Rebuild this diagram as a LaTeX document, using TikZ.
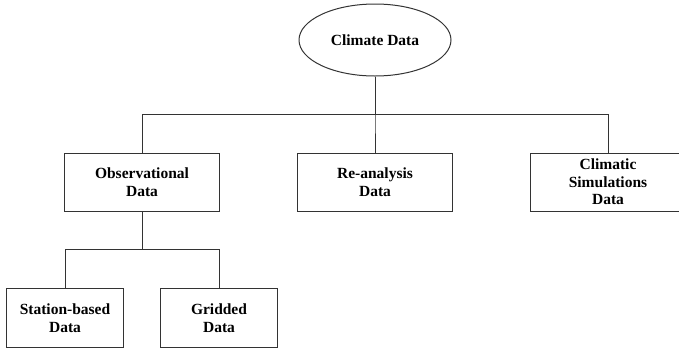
\documentclass[tikz,border=0pt]{standalone}
\usepackage{fontspec}
\setmainfont{Liberation Serif}
\usetikzlibrary{trees,positioning,shapes.geometric}
\tikzset{
  datanode/.style = {shape=rectangle, draw=black!80, line width=1pt,
                     align=center, minimum width=155pt, minimum height=58pt,
                     inner sep=1pt,
                     font=\fontsize{15.5}{17.5}\selectfont\bfseries},
  leafnode/.style = {datanode, minimum width=117pt, minimum height=59pt},
  rootnode/.style = {datanode, shape=ellipse, minimum width=152pt,
                     minimum height=72pt, inner sep=0pt}
}

\begin{document}
\begin{tikzpicture}[line width=1pt, draw=black!80,
   edge from parent path={(\tikzparentnode.south) -- ++(0,-38pt) -| (\tikzchildnode.north)}]
\tikzstyle{level 1}=[sibling distance=233pt, level distance=142pt]
\tikzstyle{level 2}=[sibling distance=154pt, level distance=136pt]
\useasboundingbox (0pt,0pt) rectangle (679pt,-349pt);
\clip (0pt,0pt) rectangle (679pt,-349pt);
\node [rootnode] (climate) at (375pt,-40pt) {Climate Data}
child { node [datanode] (obs) {Observational\\Data}
    child { node [leafnode] (station) {Station-based\\Data} }
    child { node [leafnode] (grid) {Gridded\\Data} } }
child { node [datanode] (rean) {Re-analysis\\Data} }
child { node [datanode] (sim) {Climatic\\Simulations\\Data} };
\end{tikzpicture}
\end{document}
